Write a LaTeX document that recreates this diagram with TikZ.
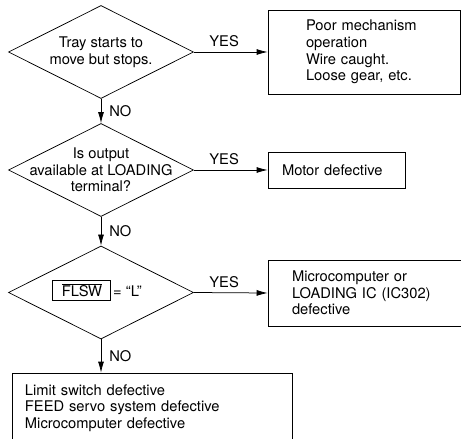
\documentclass[tikz,border=0pt]{standalone}
\usepackage{fontspec}
\setmainfont{TeX Gyre Heros}
\usetikzlibrary{arrows.meta,shapes.geometric,positioning}
\tikzstyle{decision} = [diamond, draw, minimum width=185bp, minimum height=93bp, inner sep=0pt]
\tikzstyle{result} = [rectangle, draw, align=left]
\tikzstyle{arrow} = [-{Latex[length=11bp,width=6bp]}]
\tikzstyle{answer} = [inner sep=1bp]

\begin{document}
\begin{tikzpicture}[x=1bp, y=-1bp, line width=0.75bp, font=\fontsize{14.7bp}{16.7bp}\selectfont]
\clip (0,0) rectangle (461,439);
% Tray check
\node[decision] (tray) at (101,52) {};
\node[align=center] (traytext) at (tray) {Tray starts to\\move but stops.};
\node[result, minimum width=192bp, minimum height=84bp, inner xsep=38bp, text width=116bp] (mech) at (364,52) {Poor mechanism\\operation\\Wire caught.\\Loose gear, etc.};

% LOADING terminal check
\node[decision] (load) at (101,170) {};
\node[align=center] (loadtext) at (load) {Is output\\available at LOADING\\terminal?};
\node[result, minimum width=137bp, minimum height=36bp, inner xsep=14bp, text width=109bp] (motor) at (336.5,170) {Motor defective};

% FLSW check
\node[decision] (flsw) at (101,292.5) {};
\node (flswtext) at ([xshift=-4bp, yshift=2bp]flsw) {\fboxsep=3bp\fboxrule=0.75bp\fbox{\hspace{6bp}$\overline{\mbox{FLSW}}$\hspace{5bp}}\,= “L”};
\node[result, minimum width=193bp, minimum height=66bp, inner xsep=24bp, text width=145bp] (micro) at (364.5,293) {Microcomputer or\\LOADING IC (IC302)\\defective};

% final
\node[result, minimum width=280bp, minimum height=70bp, inner xsep=13bp, text width=254bp] (limit) at (152,408) {Limit switch defective\\FEED servo system defective\\Microcomputer defective};

% Arrows
\draw[arrow] (tray.east) -- (mech.west) node[answer, pos=0.41, above=4bp] {YES};
\draw[arrow] (load.east) -- (motor.west) node[answer, pos=0.41, above=4bp] {YES};
\draw[arrow] (flsw.east) -- (micro.west) node[answer, pos=0.41, above=4bp] {YES};
\draw[arrow] (tray.south) -- (load.north) node[answer, midway, right=7bp] {NO};
\draw[arrow] (load.south) -- (flsw.north) node[answer, midway, right=7bp] {NO};
\draw[arrow] (flsw.south) -- (limit.north -| flsw.south) node[answer, midway, right=7bp] {NO};
\end{tikzpicture}
\end{document}
